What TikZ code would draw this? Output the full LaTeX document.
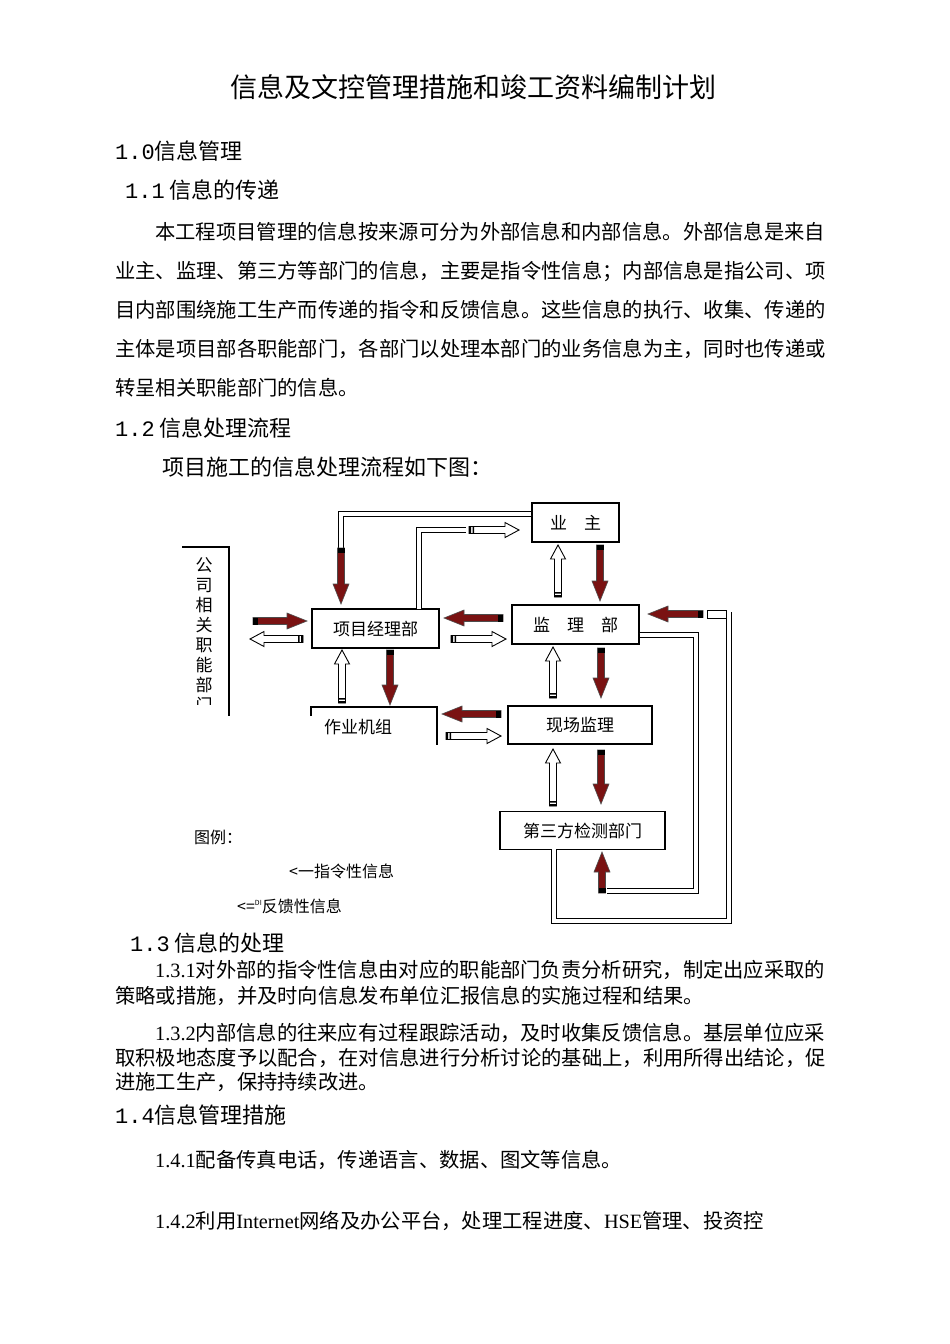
\documentclass[tikz,border=0pt]{standalone}
\usepackage{fontspec}
\setmainfont{Noto Sans CJK SC}
\newfontfamily\numfont{Liberation Mono}
\newfontfamily\latfont{Liberation Serif}
\definecolor{cmdred}{HTML}{7A1212}
\tikzset{
  box/.style={draw, line width=1.1, inner sep=0, font=\fontsize{17}{17}\selectfont},
  pipe/.style={double, double distance=4, line width=0.9},
  txt/.style={anchor=base west, inner sep=0, font=\fontsize{20.3}{20}\selectfont},
  head/.style={anchor=base west, inner sep=0, font=\fontsize{22}{22}\selectfont},
}
% red (command) and hollow (feedback) block arrows: x, y, angle, length
\newcommand\cmdarrow[4]{\begin{scope}[shift={(#1,#2)},rotate=#3]
  \filldraw[fill=cmdred, draw=black!70, line width=0.6] (0,-3.5) -- (#4-20,-3.5) -- (#4-20,-8) -- (#4,0) -- (#4-20,8) -- (#4-20,3.5) -- (0,3.5) -- cycle;
  \fill[black] (0,-3.5) rectangle (5,3.5);
  \end{scope}}
\newcommand\fbkarrow[4]{\begin{scope}[shift={(#1,#2)},rotate=#3]
  \filldraw[fill=white, draw=black, line width=0.9] (0,-3.5) -- (#4-14,-3.5) -- (#4-14,-7.5) -- (#4,0) -- (#4-14,7.5) -- (#4-14,3.5) -- (0,3.5) -- cycle;
  \fill[black] (0,-3.5) rectangle (2,3.5) (3.5,-3.5) rectangle (5,3.5);
  \end{scope}}
\begin{document}
\begin{tikzpicture}[x=1pt, y=-1pt]
\path[use as bounding box, fill=white] (0,0) rectangle (950,1344);

% page text
\node[anchor=base, inner sep=0, font=\fontsize{27}{27}\selectfont] (title) at (473,97) {信息及文控管理措施和竣工资料编制计划};
\node[head] (h10) at (115,159) {{\numfont 1.0}信息管理};
\node[head] (h11) at (125,198) {{\numfont 1.1} 信息的传递};
\node[txt] (p1) at (155,239) {本工程项目管理的信息按来源可分为外部信息和内部信息。外部信息是来自};
\node[txt] (p2) at (115,278) {业主、监理、第三方等部门的信息，主要是指令性信息；内部信息是指公司、项};
\node[txt] (p3) at (115,317) {目内部围绕施工生产而传递的指令和反馈信息。这些信息的执行、收集、传递的};
\node[txt] (p4) at (115,356) {主体是项目部各职能部门，各部门以处理本部门的业务信息为主，同时也传递或};
\node[txt] (p5) at (115,395) {转呈相关职能部门的信息。};
\node[head] (h12) at (115,436) {{\numfont 1.2} 信息处理流程};
\node[head] (intro) at (162,475) {项目施工的信息处理流程如下图：};
\node[head] (h13) at (130,951) {{\numfont 1.3} 信息的处理};
\node[txt] (q1) at (155,977) {{\latfont 1.3.1}对外部的指令性信息由对应的职能部门负责分析研究，制定出应采取的};
\node[txt] (q2) at (115,1003) {策略或措施，并及时向信息发布单位汇报信息的实施过程和结果。};
\node[txt] (r1) at (155,1040) {{\latfont 1.3.2}内部信息的往来应有过程跟踪活动，及时收集反馈信息。基层单位应采};
\node[txt] (r2) at (115,1065) {取积极地态度予以配合，在对信息进行分析讨论的基础上，利用所得出结论，促};
\node[txt] (r3) at (115,1089) {进施工生产，保持持续改进。};
\node[head] (h14) at (115,1123) {{\numfont 1.4}信息管理措施};
\node[txt] (s1) at (155,1167) {{\latfont 1.4.1}配备传真电话，传递语言、数据、图文等信息。};
\node[txt] (s2) at (155,1228) {{\latfont 1.4.2}利用{\latfont Internet}网络及办公平台，处理工程进度、{\latfont HSE}管理、投资控};

% boxes
\node[box, minimum width=87, minimum height=39] (owner) at (575.5,522.5) {业\quad 主};
\node[box, minimum width=127, minimum height=39] (pm) at (375.5,628.5) {项目经理部};
\node[box, minimum width=127, minimum height=39] (sup) at (575.5,624.5) {监\quad 理\quad 部};
\node[box, minimum width=144, minimum height=38] (site) at (580,725) {现场监理};
\node[box, minimum width=165, minimum height=38] (third) at (582.5,830.5) {第三方检测部门};
\node[inner sep=0, font=\fontsize{17}{17}\selectfont] (crew) at (358,727) {作业机组};
\draw[line width=1.1] (311,716) -- (311,707) -- (437,707) -- (437,745);

% company bracket
\draw[line width=1.1] (182,547) -- (229,547) -- (229,716);
\begin{scope}
\clip (190,550) rectangle (220,704);
\node[anchor=north, inner sep=0, align=center, font=\fontsize{17}{20}\selectfont] (dept) at (204,557) {公\\司\\相\\关\\职\\能\\部\\门};
\end{scope}

% pipes
\draw[pipe] (owner.west |- 0,514) -- (341,514) -- (341,550);
\draw[pipe] (419,609) -- (419,530) -- (466,530);
\draw[pipe] (sup.east |- 0,635) -- (696,635) -- (696,891) -- (607,891);
\draw[pipe] (554,849) -- (554,921) -- (729,921) -- (729,612);
\draw[line width=0.9] (707,610) rectangle (726,618);

% arrows
\cmdarrow{341}{548}{-90}{56}
\fbkarrow{469}{530}{0}{50}
\fbkarrow{558}{597}{90}{52}
\cmdarrow{600}{545}{-90}{56}
\cmdarrow{503}{618}{180}{59}
\fbkarrow{451}{639}{0}{55}
\cmdarrow{253}{621}{0}{54}
\fbkarrow{303}{639}{180}{53}
\fbkarrow{342}{703}{90}{53}
\cmdarrow{390}{650}{-90}{55}
\fbkarrow{553}{698}{90}{51}
\cmdarrow{601}{648}{-90}{50}
\cmdarrow{501}{714}{180}{59}
\fbkarrow{446}{736}{0}{55}
\fbkarrow{553}{806}{90}{57}
\cmdarrow{601}{750}{-90}{54}
\cmdarrow{602}{893}{90}{41}
\cmdarrow{703}{614}{180}{55}

% legend
\node[anchor=base west, inner sep=0, font=\fontsize{16}{16}\selectfont] (legend) at (194,843) {图例：};
\node[anchor=base west, inner sep=0, font=\fontsize{16}{16}\selectfont] (cmdkey) at (289,877) {<一指令性信息};
\node[anchor=base west, inner sep=0, font=\fontsize{16}{16}\selectfont] (fbkkey) at (237,912) {<={\fontsize{7}{7}\selectfont\raisebox{7pt}{DI}}反馈性信息};
\end{tikzpicture}
\end{document}
